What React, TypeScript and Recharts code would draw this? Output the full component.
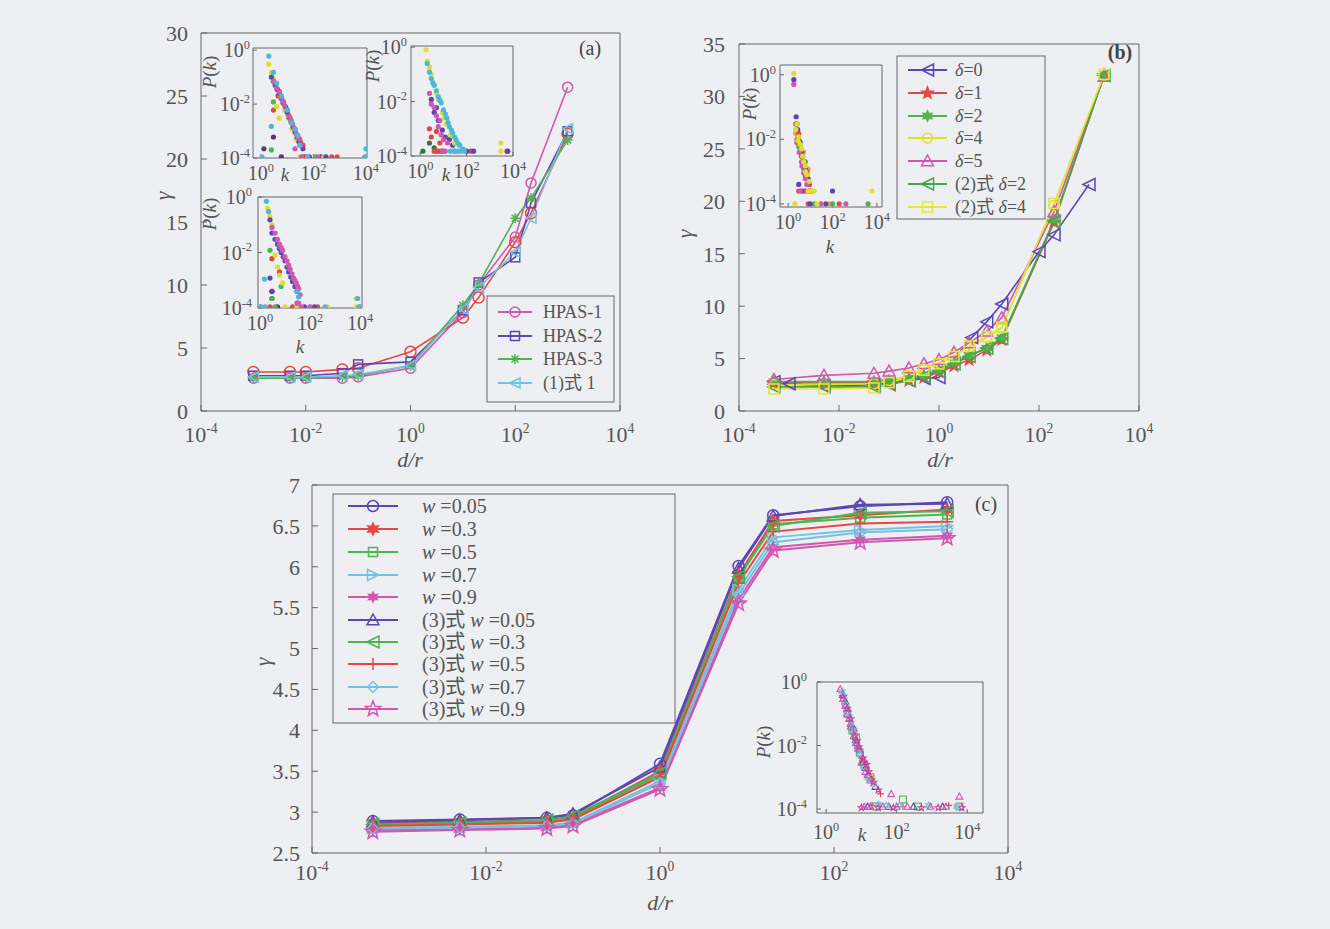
import React from "react";
import { LineChart, Line, XAxis, YAxis, ScatterChart, Scatter } from "recharts";

const FONT = "'Liberation Serif', 'Noto Sans CJK SC', serif";
const INK = "#555";
const AXIS = "#666";
const BG = "#eeeff2";

const PURPLE = "#5c46b4";
const RED = "#e84545";
const GREEN = "#4fb34f";
const LBLUE = "#74c2e0";
const PINK = "#d058b0";
const YELLOW = "#dede2c";
const ORANGE = "#f0a040";
const CYAN = "#4cb8d8";
const DARK = "#5a3878";

const DEC = [1e-4, 1e-2, 1, 1e2, 1e4];
const IN_X = [1, 1e2, 1e4];
const IN_Y = [1e-4, 1e-2, 1];

// ---- panel (a)
const aX = [0.001, 0.005, 0.01, 0.05, 0.1, 1, 10, 20, 100, 200, 1000];
const aHpas1 = [2.6, 2.6, 2.6, 2.6, 2.7, 3.4, 7.8, 10.0, 13.8, 18.1, 25.7];
const aHpas1Red = [3.1, 3.1, 3.1, 3.3, 3.4, 4.7, 7.4, 9.0, 13.4, 15.7, 22.0];
const aHpas2 = [2.8, 2.8, 2.8, 3.0, 3.7, 3.9, 8.0, 10.2, 12.2, 16.5, 22.2];
const aHpas3 = [2.6, 2.6, 2.6, 2.7, 2.8, 3.6, 8.4, 10.1, 15.3, 16.9, 21.5];
const aEq1 = [2.7, 2.7, 2.7, 2.8, 2.9, 3.6, 8.1, 9.8, 12.6, 15.3, 22.4];
const aYTicks = [0, 5, 10, 15, 20, 25, 30];

// ---- panel (b)
const bX = [5e-4, 5e-3, 0.05, 0.1, 0.25, 0.5, 1, 2, 4, 9, 18, 200, 2000];
const bD0X = [5e-4, 1e-3, 5e-3, 0.05, 0.1, 0.25, 0.5, 1, 4.5, 9, 18, 100, 200, 1000];
const bD0 = [2.8, 2.6, 2.4, 2.5, 2.6, 2.9, 3.1, 3.2, 7.0, 8.5, 10.2, 15.2, 16.8, 21.6];
const bD1 = [2.7, 2.7, 2.7, 2.8, 2.9, 3.2, 3.7, 4.3, 4.9, 5.8, 6.8, 18.0, 32.0];
const bD2 = [2.8, 2.8, 2.8, 2.9, 3.1, 3.4, 3.9, 4.6, 5.3, 6.0, 7.0, 18.2, 32.1];
const bD4 = [2.5, 2.5, 2.6, 2.9, 3.4, 4.0, 4.6, 5.3, 6.1, 7.0, 7.9, 19.6, 32.0];
const bD5 = [3.0, 3.4, 3.6, 3.8, 4.1, 4.5, 4.9, 5.6, 6.5, 7.6, 8.9, 19.0, 31.9];
const bEq2D2 = [2.3, 2.3, 2.3, 2.5, 2.9, 3.3, 3.8, 4.5, 5.2, 6.0, 6.9, 18.1, 32.0];
const bEq2D4 = [2.1, 2.1, 2.2, 2.7, 3.3, 3.9, 4.5, 5.2, 6.2, 7.1, 8.0, 19.8, 32.1];
const bYTicks = [0, 5, 10, 15, 20, 25, 30, 35];

// ---- panel (c)
const cX = [5e-4, 5e-3, 0.05, 0.1, 1, 8, 20, 200, 2000];
const cW005 = [2.89, 2.91, 2.93, 2.96, 3.59, 6.01, 6.63, 6.74, 6.79];
const cW03 = [2.86, 2.88, 2.9, 2.93, 3.5, 5.9, 6.56, 6.63, 6.7];
const cW05 = [2.85, 2.86, 2.88, 2.92, 3.46, 5.86, 6.52, 6.6, 6.64];
const cW07 = [2.81, 2.82, 2.84, 2.87, 3.38, 5.72, 6.36, 6.45, 6.5];
const cW09 = [2.78, 2.79, 2.81, 2.85, 3.3, 5.6, 6.24, 6.33, 6.38];
const cEqW005 = [2.88, 2.9, 2.93, 2.98, 3.55, 5.98, 6.62, 6.76, 6.77];
const cEqW03 = [2.85, 2.87, 2.9, 2.95, 3.48, 5.88, 6.5, 6.66, 6.68];
const cEqW05 = [2.83, 2.85, 2.87, 2.91, 3.43, 5.8, 6.43, 6.53, 6.55];
const cEqW07 = [2.8, 2.81, 2.83, 2.86, 3.35, 5.66, 6.3, 6.42, 6.46];
const cEqW09 = [2.76, 2.78, 2.8, 2.83, 3.28, 5.55, 6.2, 6.3, 6.35];
const cYTicks = [2.5, 3, 3.5, 4, 4.5, 5, 5.5, 6, 6.5, 7];

// ---- insets: [k, P(k)]
const in1Purple = [[2.5, 0.1], [3, 0.07], [3.5, 0.05], [4.2, 0.035], [5, 0.025], [6, 0.016], [7, 0.011], [8.5, 0.008], [10, 0.005], [12, 0.0032], [14, 0.0022], [17, 0.0014], [20, 0.0009], [24, 0.0006], [28, 0.0004], [40, 0.00022], [70, 0.00011], [300, 0.00011]];
const in1Pink = [[3, 0.07], [4, 0.04], [5, 0.028], [6, 0.018], [7, 0.013], [8, 0.009], [10, 0.006], [12, 0.0035], [14, 0.0026], [16, 0.0018], [19, 0.0012], [22, 0.0008], [26, 0.0006], [30, 0.0005], [33, 0.0003], [35, 0.00011], [20, 0.00022], [150, 0.00011]];
const in1Red = [[3, 0.006], [4.5, 0.02], [7, 0.012], [9, 0.007], [11, 0.004], [15, 0.002], [18, 0.0012], [25, 0.0006], [32, 0.0004], [40, 0.0003], [45, 0.00011], [50, 0.00011], [500, 0.00011], [800, 0.00011]];
const in1Green = [[3, 0.012], [2.5, 0.0002], [5, 0.03], [9, 0.007], [13, 0.003], [20, 0.0011], [25, 0.0005], [40, 0.00011], [120, 0.00011]];
const in1Yellow = [[2, 0.3], [2.5, 0.15], [3, 0.09], [3.5, 0.06], [4, 0.008], [5, 0.003], [6, 0.02], [8, 0.006], [11, 0.003], [15, 0.0012], [22, 0.0005], [30, 0.00011], [250, 0.00011], [10000, 0.00011]];
const in1Cyan = [[2, 0.6], [3, 0.15], [4, 0.06], [6, 0.02], [2.5, 0.0015], [10, 0.006], [15, 0.002], [20, 0.0012], [25, 0.0007], [30, 0.0003], [1.1, 0.00011], [60, 0.00011], [10000, 0.00022], [9000, 0.00011]];
const in1Dark = [[1.3, 0.00022], [3, 0.0006], [6, 0.00011], [200, 0.00011]];

const in2Yellow = [[1.8, 0.8], [2, 0.3], [2.5, 0.18], [3, 0.1], [4, 0.04], [5, 0.02], [6, 0.012], [9, 0.004], [11, 0.0025], [13, 0.0015], [20, 0.0006], [30, 0.0003], [3000, 0.0003], [3000, 0.00015]];
const in2Cyan = [[2, 0.25], [2.5, 0.12], [3, 0.07], [3.5, 0.05], [4, 0.04], [5, 0.025], [6, 0.015], [7, 0.011], [8, 0.009], [10, 0.005], [12, 0.0035], [14, 0.0025], [16, 0.0017], [18, 0.0012], [22, 0.0009], [25, 0.0007], [30, 0.0005], [35, 0.0004], [42, 0.0003], [50, 0.00025], [70, 0.00018], [20, 0.00015], [30, 0.00015], [40, 0.00015], [55, 0.00015], [80, 0.00015]];
const in2Pink = [[2.5, 0.02], [3, 0.008], [4, 0.006], [5, 0.003], [6, 0.0012], [7, 0.002], [8, 0.0006], [10, 0.0004], [15, 0.0003], [9, 0.00015], [12, 0.00015], [30, 0.00015]];
const in2Purple = [[3, 0.012], [4, 0.004], [5, 0.006], [6, 0.002], [9, 0.0009], [12, 0.0005], [18, 0.0004], [25, 0.00025], [100, 0.00015], [200, 0.00015], [6000, 0.00015]];
const in2Red = [[2.5, 0.001], [3, 0.0005], [5, 0.0008], [7, 0.0003], [4, 0.00015], [5, 0.00015], [6, 0.00015], [8, 0.00015], [150, 0.00015], [5500, 0.00015]];
const in2Green = [[1.3, 0.00015], [2.5, 0.0003], [4, 0.0002], [10, 0.00015]];

const in3Cyan = [[1.8, 0.7], [2.2, 0.3], [1.5, 0.0011], [1.1, 0.00011], [1.6, 0.00011], [30, 0.0004], [35, 0.00025], [400, 0.00011], [8000, 0.00022], [9000, 0.00011]];
const in3Purple = [[2.5, 0.15], [3, 0.05], [4, 0.03], [5, 0.02], [6, 0.014], [7, 0.01], [8.5, 0.007], [10, 0.005], [12, 0.003], [14, 0.002], [17, 0.0013], [20, 0.0009], [25, 0.0006], [30, 0.0004], [2.5, 0.0012], [3, 0.0004], [60, 0.00011], [150, 0.00011]];
const in3Pink = [[3, 0.08], [4, 0.05], [5, 0.03], [6, 0.02], [7, 0.015], [8, 0.012], [10, 0.007], [12, 0.005], [14, 0.0035], [16, 0.0025], [19, 0.0017], [22, 0.0012], [25, 0.001], [28, 0.0008], [32, 0.0006], [35, 0.0005], [40, 0.0003], [30, 0.00015], [35, 0.00015], [45, 0.00011], [100, 0.00011]];
const in3Yellow = [[2, 0.4], [2.5, 0.2], [3, 0.1], [4, 0.008], [5, 0.003], [6, 0.0015], [8, 0.0008], [10, 0.00011], [30, 0.00011], [500, 0.00011], [7000, 0.00022], [7000, 0.00011]];
const in3Green = [[2.5, 0.012], [3, 0.00022], [4, 0.00011], [7, 0.0006]];
const in3Red = [[3, 0.006], [2.5, 0.00011], [6, 0.002], [20, 0.00011], [200, 0.00011]];
const in3Dark = [[3, 0.0004], [3, 0.00022], [5, 0.00011]];

const inBYellow = [[1.8, 1.1], [2.2, 0.02], [2.5, 0.03], [2.8, 0.009], [3, 0.012], [3.5, 0.007], [4, 0.005], [4.5, 0.003], [5, 0.002], [6, 0.0015], [6, 0.001], [7, 0.0008], [9, 0.0005], [12, 0.00025], [8, 0.00025], [10, 0.00025], [15, 0.00025], [6000, 0.00025], [20, 0.0001], [2, 0.0001]];
const inBPurple = [[1.8, 0.7], [2.3, 0.05], [2.5, 0.03], [2.7, 0.02], [3, 0.01], [3.5, 0.008], [4, 0.004], [4.5, 0.003], [5, 0.002], [6, 0.0012], [7, 0.0008], [8, 0.0006], [3, 0.0004], [4, 0.00025], [9, 0.00025], [100, 0.00025], [10, 0.0001], [50, 0.0001]];
const inBRed = [[2.3, 0.03], [2.5, 0.008], [3, 0.015], [3.5, 0.004], [4, 0.003], [4.5, 0.002], [5, 0.0015], [6, 0.0007], [7, 0.001], [9, 0.0004], [3, 0.00025], [6, 0.00025], [8, 0.00025], [8, 0.0001], [200, 0.0001]];
const inBGreen = [[2.2, 0.03], [2.5, 0.02], [2.8, 0.012], [3, 0.006], [3.5, 0.005], [4, 0.003], [5, 0.0012], [6, 0.002], [7, 0.0006], [9, 0.0004], [5, 0.00025], [11, 0.00025], [15, 0.0001], [100, 0.0001], [4000, 0.0001]];
const inBPink = [[1.8, 0.5], [2.3, 0.02], [2.5, 0.01], [3, 0.008], [3.2, 0.004], [4, 0.002], [4.2, 0.0015], [5, 0.0009], [6, 0.0006], [7, 0.0004], [10, 0.00025], [3.5, 0.00025], [30, 0.0001], [400, 0.0001]];
const inBOrange = [[2.2, 0.015], [3.5, 0.006], [5, 0.004], [8, 0.0012], [12, 0.00025], [70, 0.0001]];

const inCPink = [[2.5, 0.6], [3, 0.3], [3.5, 0.18], [4, 0.1], [4.5, 0.07], [5, 0.04], [6, 0.02], [7, 0.012], [8, 0.008], [10, 0.003], [11, 0.004], [13, 0.0015], [15, 0.0012], [18, 0.0008], [70, 0.0003], [6000, 0.00025], [12, 0.00012], [18, 0.00012], [40, 0.00012], [100, 0.00012], [200, 0.00012], [900, 0.00012], [2500, 0.00012]];
const inCCyan = [[2.8, 0.5], [3.2, 0.35], [3.5, 0.2], [4, 0.12], [4.5, 0.08], [5, 0.05], [6, 0.03], [7, 0.012], [8, 0.008], [9, 0.005], [12, 0.002], [15, 0.001], [22, 0.0006], [30, 0.00014], [50, 0.00013], [120, 0.00013], [800, 0.00013], [5000, 0.00012]];
const inCPurple = [[3, 0.4], [3.5, 0.25], [4, 0.15], [5, 0.05], [6, 0.035], [7, 0.015], [8, 0.01], [9, 0.007], [11, 0.003], [13, 0.002], [16, 0.0012], [25, 0.0005], [15, 0.00012], [60, 0.00012], [300, 0.00012], [2000, 0.00012]];
const inCRed = [[3.2, 0.25], [4.5, 0.06], [5, 0.04], [6, 0.025], [8, 0.01], [10, 0.004], [12, 0.003], [14, 0.002], [20, 0.0009], [35, 0.0003], [20, 0.00013], [150, 0.00012], [3000, 0.00013]];
const inCGreen = [[4, 0.1], [5.5, 0.03], [7, 0.018], [9, 0.006], [12, 0.0025], [18, 0.001], [150, 0.0002], [25, 0.00012], [400, 0.00012], [6000, 0.00012]];
const inCMagenta = [[3, 0.35], [4, 0.15], [5, 0.07], [6.5, 0.02], [7.5, 0.014], [8.5, 0.009], [11, 0.004], [14, 0.0025], [16, 0.0015], [22, 0.0007], [30, 0.0004], [10, 0.00011], [30, 0.00011], [80, 0.00011], [500, 0.00011], [1500, 0.00011], [7000, 0.00011]];

type Shape = "circle" | "square" | "asterisk" | "triLeft" | "triRight" | "triUp" | "star5" | "star6" | "diamond" | "plus";

type Series = { name: string; xs: number[]; ys: number[]; color: string; shape: Shape; size: number; fill?: string; width?: number };

const pts = (xs: number[], ys: number[]) => xs.map((x, i) => ({ x, y: ys[i] }));
const pairs = (arr: number[][]) => arr.map(([x, y]) => ({ x, y }));

function starPts(cx: number, cy: number, R: number, r: number, n: number) {
  const out: string[] = [];
  for (let i = 0; i < n * 2; i++) {
    const a = -Math.PI / 2 + (i * Math.PI) / n;
    const rad = i % 2 === 0 ? R : r;
    out.push(`${cx + rad * Math.cos(a)},${cy + rad * Math.sin(a)}`);
  }
  return out.join(" ");
}

function Marker({ shape, cx, cy, s, color, fill = "none", sw = 1.5 }: { shape: Shape; cx: number; cy: number; s: number; color: string; fill?: string; sw?: number }) {
  if (cx == null || cy == null) return null;
  const p = { stroke: color, strokeWidth: sw, fill };
  switch (shape) {
    case "circle":
      return <circle cx={cx} cy={cy} r={s} {...p} />;
    case "square":
      return <rect x={cx - s} y={cy - s} width={2 * s} height={2 * s} {...p} />;
    case "diamond":
      return <polygon points={`${cx},${cy - s} ${cx + s},${cy} ${cx},${cy + s} ${cx - s},${cy}`} {...p} />;
    case "triLeft":
      return <polygon points={`${cx - s},${cy} ${cx + s},${cy - s} ${cx + s},${cy + s}`} {...p} />;
    case "triRight":
      return <polygon points={`${cx + s},${cy} ${cx - s},${cy - s} ${cx - s},${cy + s}`} {...p} />;
    case "triUp":
      return <polygon points={`${cx},${cy - s} ${cx + s},${cy + s * 0.8} ${cx - s},${cy + s * 0.8}`} {...p} />;
    case "plus":
      return <path d={`M${cx - s},${cy}H${cx + s}M${cx},${cy - s}V${cy + s}`} {...p} />;
    case "asterisk": {
      const d = s * 0.7;
      return <path d={`M${cx - s},${cy}H${cx + s}M${cx},${cy - s}V${cy + s}M${cx - d},${cy - d}L${cx + d},${cy + d}M${cx - d},${cy + d}L${cx + d},${cy - d}`} {...p} />;
    }
    case "star5":
      return <polygon points={starPts(cx, cy, s, s * 0.42, 5)} {...p} />;
    case "star6":
      return <polygon points={starPts(cx, cy, s, s * 0.5, 6)} {...p} />;
  }
  return null;
}

function PowTick(props: any) {
  const { x, y, payload, fs, dy, anchor = "middle" } = props;
  const e = Math.round(Math.log10(payload.value));
  return (
    <text x={x} y={y + dy} textAnchor={anchor} fill={INK} fontSize={fs} fontFamily={FONT}>
      10
      <tspan dy={-fs * 0.42} fontSize={fs * 0.62}>
        {e}
      </tspan>
    </text>
  );
}

function renderLine(s: Series, key: string) {
  return (
    <Line
      key={key}
      xAxisId="b"
      yAxisId="l"
      data={pts(s.xs, s.ys)}
      dataKey="y"
      type="linear"
      stroke={s.color}
      strokeWidth={s.width ?? 1.6}
      isAnimationActive={false}
      activeDot={false}
      legendType="none"
      dot={(p: any) => (
        <Marker key={`${key}-${p.index}`} shape={s.shape} cx={p.cx} cy={p.cy} s={s.size} color={s.color} fill={s.fill} />
      )}
    />
  );
}

const seriesA: Series[] = [
  { name: "HPAS-1", xs: aX, ys: aHpas1, color: PINK, shape: "circle", size: 5 },
  { name: "", xs: aX, ys: aHpas1Red, color: RED, shape: "circle", size: 5.5 },
  { name: "HPAS-2", xs: aX, ys: aHpas2, color: PURPLE, shape: "square", size: 4.5 },
  { name: "HPAS-3", xs: aX, ys: aHpas3, color: GREEN, shape: "asterisk", size: 5 },
  { name: "(1)式 1", xs: aX, ys: aEq1, color: LBLUE, shape: "triLeft", size: 5 },
];

const seriesB: Series[] = [
  { name: "0", xs: bD0X, ys: bD0, color: PURPLE, shape: "triLeft", size: 6 },
  { name: "1", xs: bX, ys: bD1, color: RED, shape: "star5", size: 6, fill: RED },
  { name: "2", xs: bX, ys: bD2, color: GREEN, shape: "star6", size: 5, fill: GREEN },
  { name: "4", xs: bX, ys: bD4, color: YELLOW, shape: "circle", size: 5 },
  { name: "5", xs: bX, ys: bD5, color: PINK, shape: "triUp", size: 6 },
  { name: "(2)式  2", xs: bX, ys: bEq2D2, color: "#44a84a", shape: "triLeft", size: 6 },
  { name: "(2)式  4", xs: bX, ys: bEq2D4, color: "#e6e63a", shape: "square", size: 5 },
];

const seriesC: Series[] = [
  { name: "0.05", xs: cX, ys: cW005, color: PURPLE, shape: "circle", size: 5.5, width: 2 },
  { name: "0.3", xs: cX, ys: cW03, color: RED, shape: "star6", size: 6, fill: RED, width: 2 },
  { name: "0.5", xs: cX, ys: cW05, color: GREEN, shape: "square", size: 4.5, width: 2 },
  { name: "0.7", xs: cX, ys: cW07, color: LBLUE, shape: "triRight", size: 5.5, width: 2 },
  { name: "0.9", xs: cX, ys: cW09, color: PINK, shape: "star6", size: 5, fill: PINK, width: 2 },
  { name: "(3)0.05", xs: cX, ys: cEqW005, color: PURPLE, shape: "triUp", size: 6, width: 2 },
  { name: "(3)0.3", xs: cX, ys: cEqW03, color: GREEN, shape: "triLeft", size: 6, width: 2 },
  { name: "(3)0.5", xs: cX, ys: cEqW05, color: RED, shape: "plus", size: 6, width: 2 },
  { name: "(3)0.7", xs: cX, ys: cEqW07, color: LBLUE, shape: "diamond", size: 5.5, width: 2 },
  { name: "(3)0.9", xs: cX, ys: cEqW09, color: PINK, shape: "star5", size: 8, width: 2 },
];

type PanelProps = {
  left: number; top: number; width: number; height: number;
  margin: { top: number; right: number; left: number; bottom: number };
  yw: number; xh: number; yDomain: [number, number]; yTicks: number[]; yMargin: number; tickDy: number;
  lines: Series[]; id: string;
};

function MainPanel(pp: PanelProps) {
  const fs = 22;
  return (
    <div style={{ position: "absolute", left: pp.left, top: pp.top }}>
      <LineChart width={pp.width} height={pp.height} margin={pp.margin}>
        <XAxis xAxisId="b" dataKey="x" type="number" scale="log" domain={[1e-4, 1e4]} allowDataOverflow ticks={DEC} interval={0}
          height={pp.xh} stroke={AXIS} tickSize={-6} tickMargin={6} tick={(p: any) => <PowTick {...p} fs={fs} dy={pp.tickDy} />} />
        <XAxis xAxisId="t" orientation="top" dataKey="x" type="number" scale="log" domain={[1e-4, 1e4]} allowDataOverflow ticks={DEC}
          interval={0} height={1} stroke={AXIS} tickSize={-6} tick={false} />
        <YAxis yAxisId="l" type="number" domain={pp.yDomain} allowDataOverflow ticks={pp.yTicks} interval={0} width={pp.yw}
          stroke={AXIS} tickSize={-6} tickMargin={pp.yMargin} tick={{ fill: INK, fontSize: fs, fontFamily: FONT }} />
        <YAxis yAxisId="r" orientation="right" type="number" domain={pp.yDomain} allowDataOverflow ticks={pp.yTicks} interval={0}
          width={1} stroke={AXIS} tickSize={-6} tick={false} />
        {pp.lines.map((s, i) => renderLine(s, `${pp.id}${i}`))}
      </LineChart>
    </div>
  );
}

type Group = { data: number[][]; color: string; shape?: Shape };

type InsetProps = {
  left: number; top: number; width: number; height: number;
  margin: { top: number; right: number; left: number; bottom: number };
  yw: number; xh: number; xDomain: [number, number]; yDomain: [number, number];
  yMargin: number; tickDy: number; groups: Group[];
};

function Inset(ip: InsetProps) {
  const fs = 20;
  return (
    <div style={{ position: "absolute", left: ip.left, top: ip.top }}>
      <ScatterChart width={ip.width} height={ip.height} margin={ip.margin}>
        <XAxis xAxisId="b" dataKey="x" type="number" scale="log" domain={ip.xDomain} allowDataOverflow ticks={IN_X} interval={0}
          height={ip.xh} stroke={AXIS} tickSize={-4} tickMargin={4} tick={(p: any) => <PowTick {...p} fs={fs} dy={ip.tickDy} />} />
        <XAxis xAxisId="t" orientation="top" dataKey="x" type="number" scale="log" domain={ip.xDomain} allowDataOverflow ticks={IN_X}
          interval={0} height={1} stroke={AXIS} tickSize={-4} tick={false} />
        <YAxis yAxisId="l" dataKey="y" type="number" scale="log" domain={ip.yDomain} allowDataOverflow ticks={IN_Y} interval={0}
          width={ip.yw} stroke={AXIS} tickSize={-4} tickMargin={ip.yMargin}
          tick={(p: any) => <PowTick {...p} fs={fs} dy={fs * 0.36} anchor="end" />} />
        <YAxis yAxisId="r" orientation="right" dataKey="y" type="number" scale="log" domain={ip.yDomain} allowDataOverflow ticks={IN_Y}
          interval={0} width={1} stroke={AXIS} tickSize={-4} tick={false} />
        {ip.groups.map((g, gi) => (
          <Scatter
            key={gi}
            xAxisId="b"
            yAxisId="l"
            data={pairs(g.data)}
            isAnimationActive={false}
            shape={(p: any) =>
              g.shape ? (
                <Marker shape={g.shape} cx={p.cx} cy={p.cy} s={3.4} color={g.color} sw={1.1} />
              ) : (
                <circle cx={p.cx} cy={p.cy} r={2.6} fill={g.color} />
              )
            }
          />
        ))}
      </ScatterChart>
    </div>
  );
}

type LegendItem = { label: React.ReactNode; color: string; shape: Shape; size: number; fill?: string; width?: number };

function LegendBox({ x, y, w, h, rows, items, lx1, lx2, tx, fs }: { x: number; y: number; w: number; h: number; rows: number[]; items: LegendItem[]; lx1: number; lx2: number; tx: number; fs: number }) {
  const mx = (lx1 + lx2) / 2;
  return (
    <g>
      <rect x={x} y={y} width={w} height={h} fill={BG} stroke={AXIS} strokeWidth={1} />
      {items.map((it, i) => (
        <g key={i}>
          <line x1={lx1} x2={lx2} y1={rows[i]} y2={rows[i]} stroke={it.color} strokeWidth={it.width ?? 1.8} />
          <Marker shape={it.shape} cx={mx} cy={rows[i]} s={it.size} color={it.color} fill={it.fill} />
          <text x={tx} y={rows[i] + fs * 0.34} fill={INK} fontSize={fs} fontFamily={FONT}>
            {it.label}
          </text>
        </g>
      ))}
    </g>
  );
}

const It = ({ children }: { children: React.ReactNode }) => <tspan fontStyle="italic">{children}</tspan>;

function PkLabel({ x, y }: { x: number; y: number }) {
  return (
    <text x={x} y={y} transform={`rotate(-90 ${x} ${y})`} textAnchor="middle" fill={INK} fontSize={19} fontFamily={FONT}>
      <It>P</It>(<It>k</It>)
    </text>
  );
}

function KLabel({ x, y }: { x: number; y: number }) {
  return (
    <text x={x} y={y} textAnchor="middle" fill={INK} fontSize={19} fontFamily={FONT} fontStyle="italic">
      k
    </text>
  );
}

export default function App() {
  const legendA: LegendItem[] = [0, 2, 3, 4].map((i) => ({
    label: seriesA[i].name, color: seriesA[i].color, shape: seriesA[i].shape, size: seriesA[i].size,
  }));
  const legendB: LegendItem[] = seriesB.map((s, i) => ({
    label: i < 5 ? <><It>δ</It>={s.name}</> : <>{"(2)式  "}<It>δ</It>={i === 5 ? "2" : "4"}</>,
    color: s.color, shape: s.shape, size: s.size, fill: s.fill,
  }));
  const wVals = ["0.05", "0.3", "0.5", "0.7", "0.9"];
  const legendC: LegendItem[] = seriesC.map((s, i) => ({
    label: i < 5 ? <><It>w</It> ={wVals[i]}</> : <>{"(3)式 "}<It>w</It> ={wVals[i - 5]}</>,
    color: s.color, shape: s.shape, size: s.size, fill: s.fill, width: 2,
  }));

  return (
    <div style={{ position: "absolute", left: 0, top: 0, width: 1330, height: 929, background: BG, overflow: "hidden", fontFamily: FONT }}>
      <MainPanel id="a" left={140} top={15} width={510} height={470} margin={{ top: 17, right: 29, left: 0, bottom: 0 }}
        yw={61} xh={74} yDomain={[0, 30]} yTicks={aYTicks} yMargin={19} tickDy={31} lines={seriesA} />
      <MainPanel id="b" left={680} top={15} width={490} height={470} margin={{ top: 28, right: 30, left: 0, bottom: 0 }}
        yw={59} xh={74} yDomain={[0, 35]} yTicks={bYTicks} yMargin={20} tickDy={31} lines={seriesB} />
      <MainPanel id="c" left={240} top={470} width={800} height={450} margin={{ top: 14, right: 31, left: 0, bottom: 0 }}
        yw={72} xh={67} yDomain={[2.5, 7]} yTicks={cYTicks} yMargin={18} tickDy={27} lines={seriesC} />

      <Inset left={200} top={30} width={187} height={162} margin={{ top: 17, right: 19, left: 0, bottom: 0 }} yw={53} xh={34}
        xDomain={[0.5, 11000]} yDomain={[1e-4, 1.2]} yMargin={7} tickDy={22}
        groups={[
          { data: in1Dark, color: DARK }, { data: in1Green, color: GREEN }, { data: in1Red, color: RED },
          { data: in1Yellow, color: YELLOW }, { data: in1Purple, color: PURPLE }, { data: in1Pink, color: PINK },
          { data: in1Cyan, color: CYAN },
        ]} />
      <Inset left={360} top={28} width={175} height={162} margin={{ top: 17, right: 21, left: 0, bottom: 0 }} yw={51} xh={34}
        xDomain={[0.4, 10000]} yDomain={[1e-4, 1.1]} yMargin={8} tickDy={22}
        groups={[
          { data: in2Green, color: "#307840" }, { data: in2Red, color: RED }, { data: in2Purple, color: PURPLE },
          { data: in2Pink, color: PINK }, { data: in2Yellow, color: YELLOW }, { data: in2Cyan, color: CYAN },
        ]} />
      <Inset left={200} top={180} width={180} height={155} margin={{ top: 16, right: 17, left: 0, bottom: 0 }} yw={58} xh={27}
        xDomain={[0.83, 12000]} yDomain={[1e-4, 1]} yMargin={10} tickDy={22}
        groups={[
          { data: in3Dark, color: DARK }, { data: in3Green, color: GREEN }, { data: in3Red, color: RED },
          { data: in3Yellow, color: YELLOW }, { data: in3Purple, color: PURPLE }, { data: in3Pink, color: PINK },
          { data: in3Cyan, color: CYAN },
        ]} />
      <Inset left={730} top={45} width={170} height={190} margin={{ top: 19, right: 17, left: 0, bottom: 0 }} yw={50} xh={28}
        xDomain={[0.43, 17000]} yDomain={[8e-5, 2]} yMargin={8} tickDy={22}
        groups={[
          { data: inBOrange, color: ORANGE }, { data: inBGreen, color: GREEN }, { data: inBRed, color: RED },
          { data: inBPurple, color: PURPLE }, { data: inBPink, color: PINK }, { data: inBYellow, color: YELLOW },
        ]} />
      <Inset left={760} top={662} width={240} height={185} margin={{ top: 19, right: 16, left: 0, bottom: 0 }} yw={57} xh={34}
        xDomain={[0.55, 28000]} yDomain={[7.5e-5, 1]} yMargin={14} tickDy={26}
        groups={[
          { data: inCGreen, color: GREEN, shape: "square" }, { data: inCRed, color: RED, shape: "plus" },
          { data: inCPurple, color: PURPLE, shape: "triUp" }, { data: inCCyan, color: LBLUE, shape: "star6" },
          { data: inCPink, color: PINK, shape: "triUp" }, { data: inCMagenta, color: "#c8409a", shape: "star5" },
        ]} />

      <svg width={1330} height={929} style={{ position: "absolute", left: 0, top: 0, pointerEvents: "none" }}>
        {/* axis titles */}
        <text x={170} y={196} transform="rotate(-90 170 196)" textAnchor="middle" fill={INK} fontSize={22} fontFamily={FONT} fontStyle="italic">γ</text>
        <text x={410} y={467} textAnchor="middle" fill={INK} fontSize={22} fontFamily={FONT} fontStyle="italic">d/r</text>
        <text x={692} y={234} transform="rotate(-90 692 234)" textAnchor="middle" fill={INK} fontSize={22} fontFamily={FONT} fontStyle="italic">γ</text>
        <text x={940} y={467} textAnchor="middle" fill={INK} fontSize={22} fontFamily={FONT} fontStyle="italic">d/r</text>
        <text x={270} y={662} transform="rotate(-90 270 662)" textAnchor="middle" fill={INK} fontSize={22} fontFamily={FONT} fontStyle="italic">γ</text>
        <text x={660} y={910} textAnchor="middle" fill={INK} fontSize={22} fontFamily={FONT} fontStyle="italic">d/r</text>

        {/* panel tags */}
        <text x={590} y={55} textAnchor="middle" fill="#444" fontSize={20} fontFamily={FONT}>(a)</text>
        <text x={1120} y={59} textAnchor="middle" fill="#444" fontSize={20} fontFamily={FONT} fontWeight="bold">(b)</text>
        <text x={986} y={511} textAnchor="middle" fill="#444" fontSize={20} fontFamily={FONT}>(c)</text>

        {/* inset labels */}
        <PkLabel x={216} y={72} />
        <KLabel x={285} y={181} />
        <PkLabel x={379} y={66} />
        <KLabel x={446} y={181} />
        <PkLabel x={216} y={214} />
        <KLabel x={300} y={353} />
        <PkLabel x={756} y={104} />
        <KLabel x={830} y={253} />
        <PkLabel x={770} y={742} />
        <KLabel x={862} y={841} />

        <LegendBox x={487} y={296} w={127} h={106} rows={[312, 336, 359, 383]} items={legendA} lx1={498} lx2={532} tx={543} fs={18} />
        <LegendBox x={897} y={56} w={148} h={163} rows={[70, 93, 116, 138, 161, 184, 207]} items={legendB} lx1={908} lx2={947} tx={955} fs={18} />
        <LegendBox x={333} y={494} w={342} h={229} rows={[506, 529, 552, 575, 597, 620, 642, 664, 687, 709]} items={legendC} lx1={348} lx2={398} tx={422} fs={20} />
      </svg>
    </div>
  );
}
